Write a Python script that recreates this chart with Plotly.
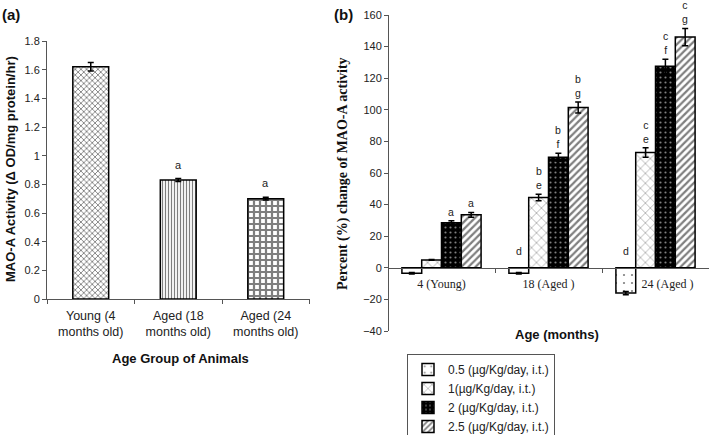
import plotly.graph_objects as go

# ---- Panel (a) data ----
groups_a = ["Young (4<br>months old)", "Aged (18<br>months old)", "Aged (24<br>months old)"]
activity_a = [1.62, 0.83, 0.70]
err_a = [0.03, 0.01, 0.01]
letters_a = ["", "a", "a"]

# ---- Panel (b) data ----
ages_b = ["4 (Young)", "18 (Aged )", "24 (Aged )"]
doses_b = ["0.5 (µg/Kg/day, i.t.)", "1(µg/Kg/day, i.t.)", "2 (µg/Kg/day, i.t.)", "2.5 (µg/Kg/day, i.t.)"]
dose05 = [-3.5, -3.5, -16]
dose1 = [5, 44.5, 73]
dose2 = [28.5, 70, 127.5]
dose25 = [33.5, 101.5, 146]
err05 = [0.5, 0.5, 1.0]
err1 = [0.3, 2.0, 3.0]
err2 = [1.3, 2.5, 4.5]
err25 = [1.5, 3.5, 5.5]
letters05 = ["", "d", "d"]
letters1 = ["", "b<br>e", "c<br>e"]
letters2 = ["a", "b<br>f", "c<br>f"]
letters25 = ["a", "b<br>g", "c<br>g"]

W, H = 709, 435
def px(x): return x / W
def py(y): return 1 - y / H

ARIAL = "Liberation Sans, Arial, sans-serif"
TIMES = "Liberation Serif, Times New Roman, serif"

fig = go.Figure()

fig.add_trace(go.Bar(
    x=groups_a, y=activity_a, width=0.41,
    error_y=dict(type="data", array=err_a, color="black", thickness=1.5, width=3),
    marker=dict(color="white", line=dict(color="black", width=1.5),
                pattern=dict(shape=["x", "|", "+"], fgcolor="black", bgcolor="white",
                             size=[4, 3, 6], solidity=[0.4, 0.4, 0.6])),
    xaxis="x", yaxis="y", showlegend=False))

series = [
    (dose05, err05, dict(shape=".", fgcolor="black", bgcolor="white", size=8, solidity=0.06)),
    (dose1, err1, dict(shape="x", fgcolor="black", bgcolor="white", size=7, solidity=0.15)),
    (dose2, err2, dict(shape=".", fgcolor="white", bgcolor="black", size=5, solidity=0.15)),
    (dose25, err25, dict(shape="/", fgcolor="black", bgcolor="white", size=5, solidity=0.45)),
]
for name, (vals, errs, pat) in zip(doses_b, series):
    fig.add_trace(go.Bar(
        x=ages_b, y=vals, name=name,
        error_y=dict(type="data", array=errs, color="black", thickness=1.5, width=3),
        marker=dict(color=pat["bgcolor"], line=dict(color="black", width=1.5), pattern=pat),
        xaxis="x2", yaxis="y2"))

# last category label sits to the right of the negative bar, as in the original
ticktext_b = [ages_b[0], ages_b[1], "&nbsp;" * 8 + ages_b[2]]

fig.update_layout(
    width=W, height=H, margin=dict(l=0, r=0, t=0, b=0, autoexpand=False),
    plot_bgcolor="white", paper_bgcolor="white",
    barmode="group", bargap=0.26, bargroupgap=0,
    font=dict(family=ARIAL, color="#222", size=11),
    xaxis=dict(domain=[px(47), px(309.5)], anchor="y", type="category",
               showline=True, linecolor="#555", linewidth=1, ticks="outside", ticklen=4,
               tickson="boundaries", tickcolor="#555", tickfont=dict(size=12.5, family=ARIAL),
               ticklabelstandoff=5, showgrid=False),
    yaxis=dict(domain=[py(299), py(41)], anchor="x", range=[0, 1.8], dtick=0.2,
               showline=True, linecolor="#555", linewidth=1, ticks="outside", ticklen=4,
               tickcolor="#555", showgrid=False, zeroline=False,
               tickfont=dict(size=11, family=ARIAL)),
    xaxis2=dict(domain=[px(388), 1.0], anchor="free", position=py(268), type="category",
                showline=True, linecolor="#555", linewidth=1, ticks="outside", ticklen=4,
                tickson="boundaries", tickcolor="#555", showgrid=False,
                tickvals=ages_b, ticktext=ticktext_b,
                ticklabelstandoff=5, tickfont=dict(size=12, family=TIMES)),
    yaxis2=dict(domain=[py(331), py(15)], anchor="free", position=px(388), range=[-40, 160],
                dtick=20, showline=True, linecolor="#555", linewidth=1, ticks="outside",
                ticklen=4, tickcolor="#555", showgrid=False, zeroline=False,
                tickfont=dict(size=11, family=ARIAL)),
    legend=dict(x=px(407), y=py(354), xanchor="left", yanchor="top",
                bordercolor="#555", borderwidth=1, bgcolor="white",
                font=dict(size=12, family=ARIAL), tracegroupgap=0, itemwidth=30),
)

ann = []
def paper_text(text, x, y, size, family, angle=0):
    ann.append(dict(text=text, x=px(x), y=py(y), xref="paper", yref="paper",
                    xanchor="center", yanchor="middle", textangle=angle, showarrow=False,
                    font=dict(size=size, family=family, color="#111")))

paper_text("<b>(a)</b>", 11, 15, 15, ARIAL)
paper_text("<b>(b)</b>", 343, 15, 15, ARIAL)
paper_text("<b>MAO-A Activity (Δ OD/mg protein/hr)</b>", 10, 169, 13, ARIAL, -90)
paper_text("<b>Age Group of Animals</b>", 180, 358, 13, ARIAL)
paper_text("<b>Percent (%) change of MAO-A activity</b>", 343, 174, 14, TIMES, -90)
paper_text("<b>Age (months)</b>", 557, 334, 13, ARIAL)

for i, (lab, v, e) in enumerate(zip(letters_a, activity_a, err_a)):
    if lab:
        ann.append(dict(text=lab, x=i, y=v + e, xref="x", yref="y", yanchor="bottom", yshift=6,
                        showarrow=False, font=dict(size=11, family=ARIAL, color="#222")))

offsets = [-0.2775, -0.0925, 0.0925, 0.2775]
for j, (labs, vals, errs) in enumerate([(letters05, dose05, err05), (letters1, dose1, err1),
                                        (letters2, dose2, err2), (letters25, dose25, err25)]):
    for i, lab in enumerate(labs):
        if not lab:
            continue
        top = max(vals[i] + errs[i], 0)
        ann.append(dict(text=lab, x=i + offsets[j], y=top, xref="x2", yref="y2", yanchor="bottom",
                        yshift=2 if vals[i] > 0 else 10, borderpad=0, showarrow=False,
                        font=dict(size=10.5, family=ARIAL, color="#222")))

fig.update_layout(annotations=ann)
fig.write_html("out.html", config={"displayModeBar": False},
               post_script="document.body.style.margin='0';document.body.style.overflow='hidden';")
